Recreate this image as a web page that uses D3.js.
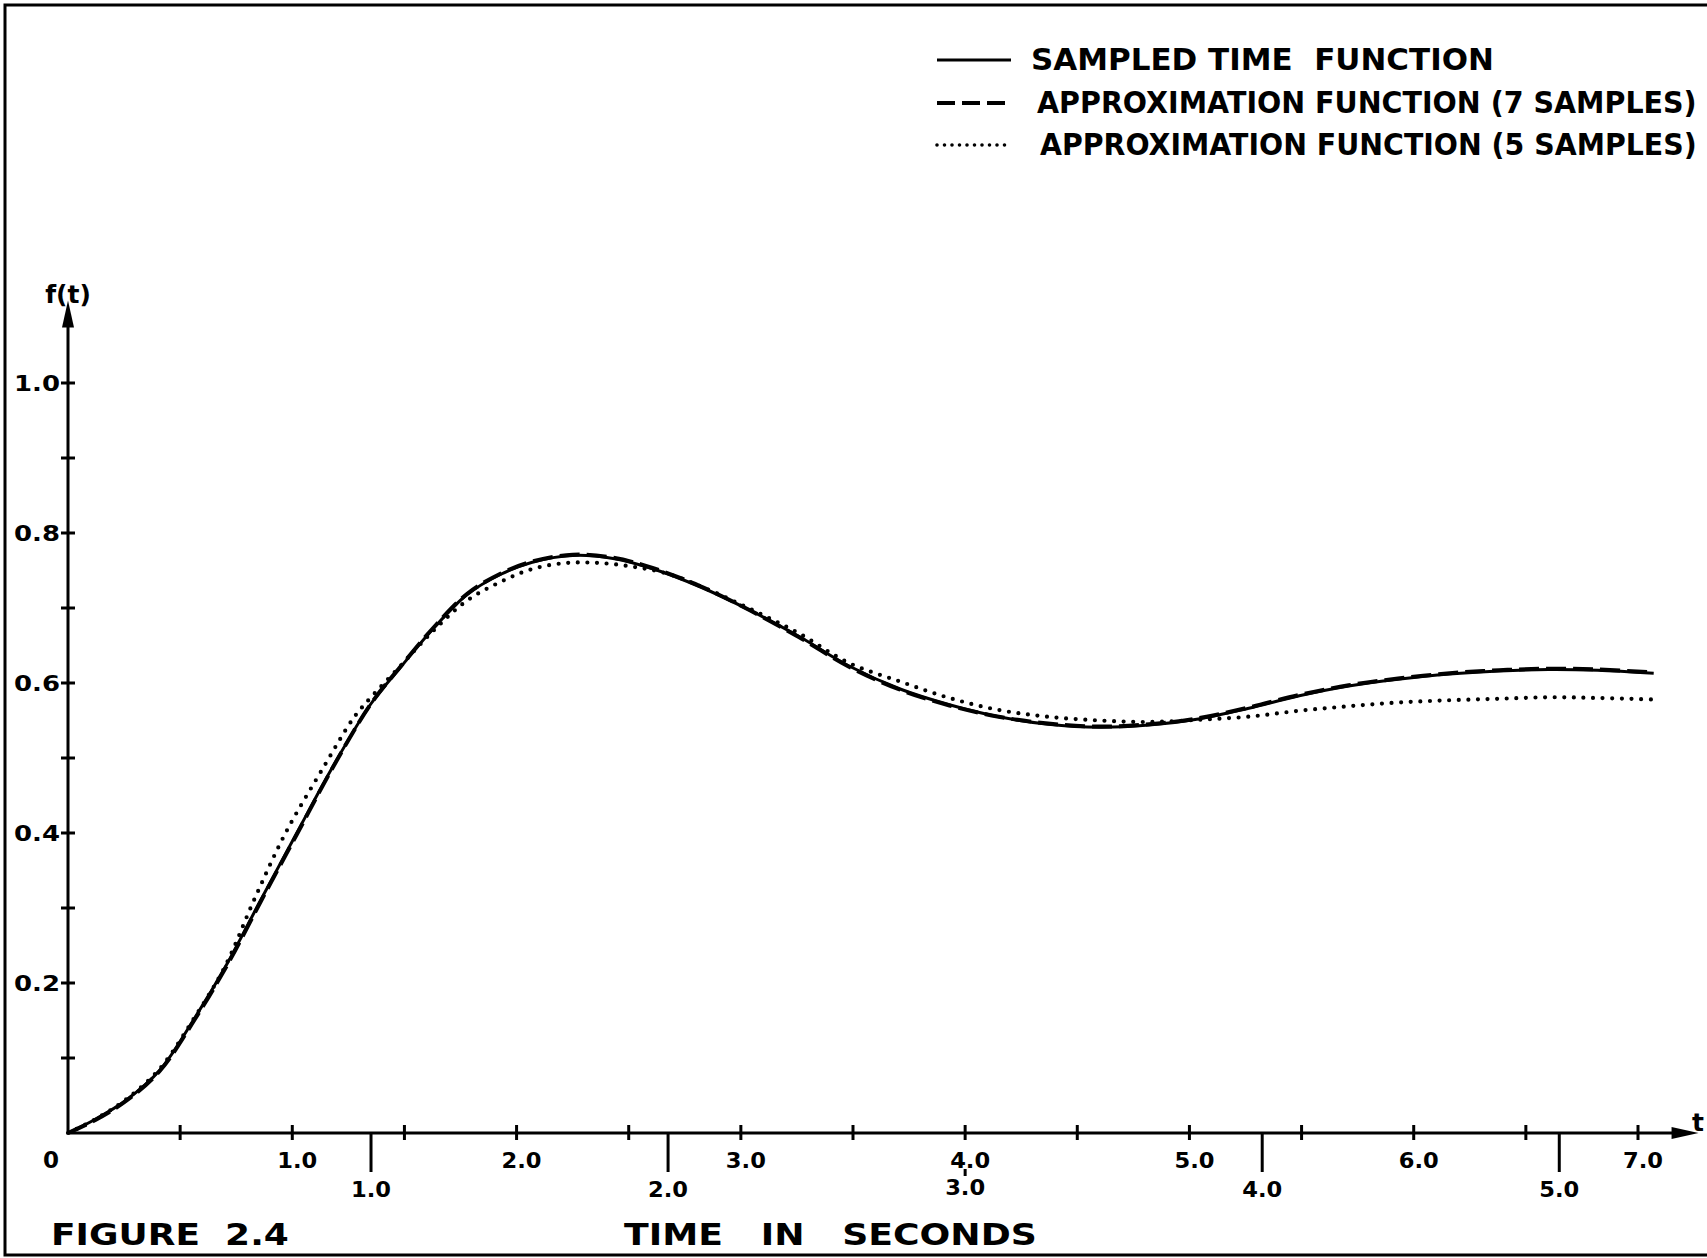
<!DOCTYPE html>
<html><head><meta charset="utf-8">
<script src="https://cdn.jsdelivr.net/npm/d3@7"></script>
<style>html,body{margin:0;padding:0;background:#fff;} svg{display:block;} text{font-family:"DejaVu Sans",sans-serif;font-weight:bold;fill:#000;}</style>
</head><body><svg id="chart" width="1707" height="1258"></svg>
<script>
// ---- data ----
const sampledTimes = [0, 0.12, 0.26, 0.41, 0.56, 0.71, 0.86, 1.02, 1.18, 1.35, 1.48, 1.63, 1.78, 1.93, 2.07, 2.25, 2.43, 2.61, 2.82, 3.04, 3.26, 3.48, 3.71, 3.93, 4.15, 4.37, 4.60, 4.82, 5.04, 5.26, 5.49, 5.71, 5.93, 6.16, 6.38, 6.60, 6.82, 7.07];
const sampledValues = [0, 0.018, 0.044, 0.084, 0.151, 0.226, 0.311, 0.400, 0.488, 0.572, 0.620, 0.673, 0.718, 0.745, 0.761, 0.770, 0.766, 0.752, 0.728, 0.697, 0.662, 0.623, 0.592, 0.571, 0.555, 0.545, 0.541, 0.544, 0.552, 0.566, 0.583, 0.596, 0.605, 0.612, 0.616, 0.618, 0.617, 0.613];
const approx7Values = [0, 0.017, 0.043, 0.083, 0.149, 0.224, 0.309, 0.398, 0.487, 0.572, 0.621, 0.674, 0.719, 0.746, 0.762, 0.771, 0.767, 0.753, 0.729, 0.697, 0.661, 0.622, 0.591, 0.570, 0.555, 0.546, 0.542, 0.545, 0.553, 0.567, 0.584, 0.597, 0.606, 0.613, 0.617, 0.619, 0.618, 0.614];
const approx5Times = [0, 0.12, 0.26, 0.41, 0.56, 0.70, 0.83, 0.97, 1.14, 1.27, 1.33, 1.48, 1.63, 1.78, 1.93, 2.07, 2.22, 2.37, 2.52, 2.67, 2.82, 3.04, 3.26, 3.48, 3.71, 3.93, 4.15, 4.37, 4.60, 4.82, 5.04, 5.26, 5.49, 5.71, 5.93, 6.16, 6.38, 6.60, 6.82, 7.07];
const approx5Values = [0, 0.018, 0.045, 0.086, 0.152, 0.222, 0.311, 0.400, 0.488, 0.552, 0.574, 0.622, 0.670, 0.710, 0.735, 0.752, 0.760, 0.760, 0.755, 0.746, 0.729, 0.699, 0.666, 0.627, 0.602, 0.580, 0.564, 0.555, 0.550, 0.548, 0.551, 0.555, 0.563, 0.569, 0.574, 0.577, 0.579, 0.581, 0.580, 0.578];

const yTickValues = [0.1, 0.2, 0.3, 0.4, 0.5, 0.6, 0.7, 0.8, 0.9, 1.0];
const yLabelValues = [0.2, 0.4, 0.6, 0.8, 1.0];
const yLabelTexts = ["0.2", "0.4", "0.6", "0.8", "1.0"];
const xTickValues = [0.5, 1, 1.5, 2, 2.5, 3, 3.5, 4, 4.5, 5, 5.5, 6, 6.5, 7];
const xLabelValues = [1, 2, 3, 4, 5, 6, 7];
const xLabelTexts = ["1.0", "2.0", "3.0", "4.0", "5.0", "6.0", "7.0"];
const lowerLabelValues = [1, 2, 3, 4, 5];
const lowerLabelTexts = ["1.0", "2.0", "3.0", "4.0", "5.0"];
const legendLabels = ["SAMPLED TIME  FUNCTION", "APPROXIMATION FUNCTION (7 SAMPLES)", "APPROXIMATION FUNCTION (5 SAMPLES)"];

// ---- drawing ----
const svg = d3.select("#chart");
const x = d3.scaleLinear().domain([0, 7]).range([68, 1638]);
const y = d3.scaleLinear().domain([0, 1]).range([1133, 383]);
const xLower = d3.scaleLinear().domain([1, 5]).range([x(1.351), x(6.649)]);
const X0 = x(0), Y0 = y(0);

// text squeezed horizontally to a target width (keeps real glyph height)
function fitText(tx, ty, size, width, str) {
  const t = svg.append("text").attr("font-size", size).style("white-space", "pre").text(str);
  const natural = t.node().getComputedTextLength();
  const sx = Math.min(1.2, width / natural);
  t.attr("transform", `translate(${tx},${ty}) scale(${sx},1)`);
  return t;
}

// frame
svg.append("path").attr("d", "M1707,5 L5,5 L5,1255 L1707,1255")
  .attr("fill", "none").attr("stroke", "#000").attr("stroke-width", 3);

// axes
const xEnd = x(7.27), yEnd = y(1.11);
svg.append("line").attr("x1", X0).attr("y1", Y0).attr("x2", xEnd - 10).attr("y2", Y0).attr("stroke", "#000").attr("stroke-width", 3);
svg.append("line").attr("x1", X0).attr("y1", Y0).attr("x2", X0).attr("y2", yEnd + 10).attr("stroke", "#000").attr("stroke-width", 3);
svg.append("path").attr("d", `M${xEnd},${Y0} L${xEnd - 27},${Y0 - 6} L${xEnd - 27},${Y0 + 6} Z`).attr("fill", "#000");
svg.append("path").attr("d", `M${X0},${yEnd} L${X0 - 6},${yEnd + 27} L${X0 + 6},${yEnd + 27} Z`).attr("fill", "#000");

// y ticks (crossing)
svg.selectAll(".yt").data(yTickValues).enter().append("line")
  .attr("x1", X0 - 7).attr("x2", X0 + 7).attr("y1", d => y(d)).attr("y2", d => y(d))
  .attr("stroke", "#000").attr("stroke-width", 3);
svg.selectAll(".yl").data(yLabelValues).enter().append("text")
  .attr("x", X0 - 8).attr("y", d => y(d)).attr("dy", "0.36em").attr("text-anchor", "end")
  .attr("font-size", 22).attr("textLength", 46).attr("lengthAdjust", "spacingAndGlyphs")
  .text((d, i) => yLabelTexts[i]);

// x ticks (crossing)
svg.selectAll(".xt").data(xTickValues).enter().append("line")
  .attr("x1", d => x(d)).attr("x2", d => x(d)).attr("y1", Y0 - 8).attr("y2", Y0 + 7)
  .attr("stroke", "#000").attr("stroke-width", 3);
svg.selectAll(".xl").data(xLabelValues).enter().append("text")
  .attr("x", d => x(d) + 5).attr("y", Y0 + 35).attr("text-anchor", "middle")
  .attr("font-size", 22).attr("textLength", 40).attr("lengthAdjust", "spacingAndGlyphs")
  .text((d, i) => xLabelTexts[i]);
svg.append("text").attr("x", 51).attr("y", Y0 + 35).attr("text-anchor", "middle")
  .attr("font-size", 23).text("0");

// lower (second) time scale
svg.selectAll(".lt").data(lowerLabelValues).enter().append("line")
  .attr("x1", d => xLower(d)).attr("x2", d => xLower(d))
  .attr("y1", d => d === 3 ? Y0 + 36 : Y0).attr("y2", d => d === 3 ? Y0 + 43 : Y0 + 39)
  .attr("stroke", "#000").attr("stroke-width", 3);
svg.selectAll(".ll").data(lowerLabelValues).enter().append("text")
  .attr("x", d => xLower(d)).attr("y", d => d === 3 ? Y0 + 62 : Y0 + 64).attr("text-anchor", "middle")
  .attr("font-size", 22).attr("textLength", 40).attr("lengthAdjust", "spacingAndGlyphs")
  .text((d, i) => lowerLabelTexts[i]);

// axis names
svg.append("text").attr("x", X0).attr("y", 303).attr("text-anchor", "middle")
  .attr("font-size", 25).attr("font-weight", "normal").text("f(t)");
svg.append("text").attr("x", 1692).attr("y", 1131).attr("font-size", 25).attr("font-weight", "normal").text("t");

// curves
const line = d3.line().x(d => x(d[0])).y(d => y(d[1])).curve(d3.curveCatmullRom.alpha(0.5));
const solidData = sampledTimes.map((t, i) => [t, sampledValues[i]]);
const dashData = sampledTimes.map((t, i) => [t, approx7Values[i]]);
const dotData = approx5Times.map((t, i) => [t, approx5Values[i]]);

svg.append("path").attr("d", line(solidData)).attr("fill", "none").attr("stroke", "#000").attr("stroke-width", 3);
svg.append("path").attr("d", line(dashData)).attr("fill", "none").attr("stroke", "#000").attr("stroke-width", 4)
  .attr("stroke-dasharray", "20 7");
svg.append("path").attr("d", line(dotData)).attr("fill", "none").attr("stroke", "#000").attr("stroke-width", 4.2)
  .attr("stroke-linecap", "round").attr("stroke-dasharray", "0 9.6");

// legend
const legendRows = [
  {y: 60, tx: 1031, tw: 463, dash: null, width: 3, cap: "butt"},
  {y: 103, tx: 1037, tw: 660, dash: "18 7", width: 4, cap: "butt"},
  {y: 145, tx: 1040, tw: 657, dash: "0 7.5", width: 3.6, cap: "round"}
];
legendRows.forEach((r, i) => {
  const l = svg.append("line").attr("x1", 937).attr("x2", 1011).attr("y1", r.y).attr("y2", r.y)
    .attr("stroke", "#000").attr("stroke-width", r.width).attr("stroke-linecap", r.cap);
  if (r.dash) l.attr("stroke-dasharray", r.dash);
  fitText(r.tx, r.y + 10, 31, r.tw, legendLabels[i]);
});

// captions
fitText(51, 1245, 31, 238, "FIGURE  2.4");
fitText(624, 1245, 31, 413, "TIME   IN   SECONDS");
</script>
</body></html>
